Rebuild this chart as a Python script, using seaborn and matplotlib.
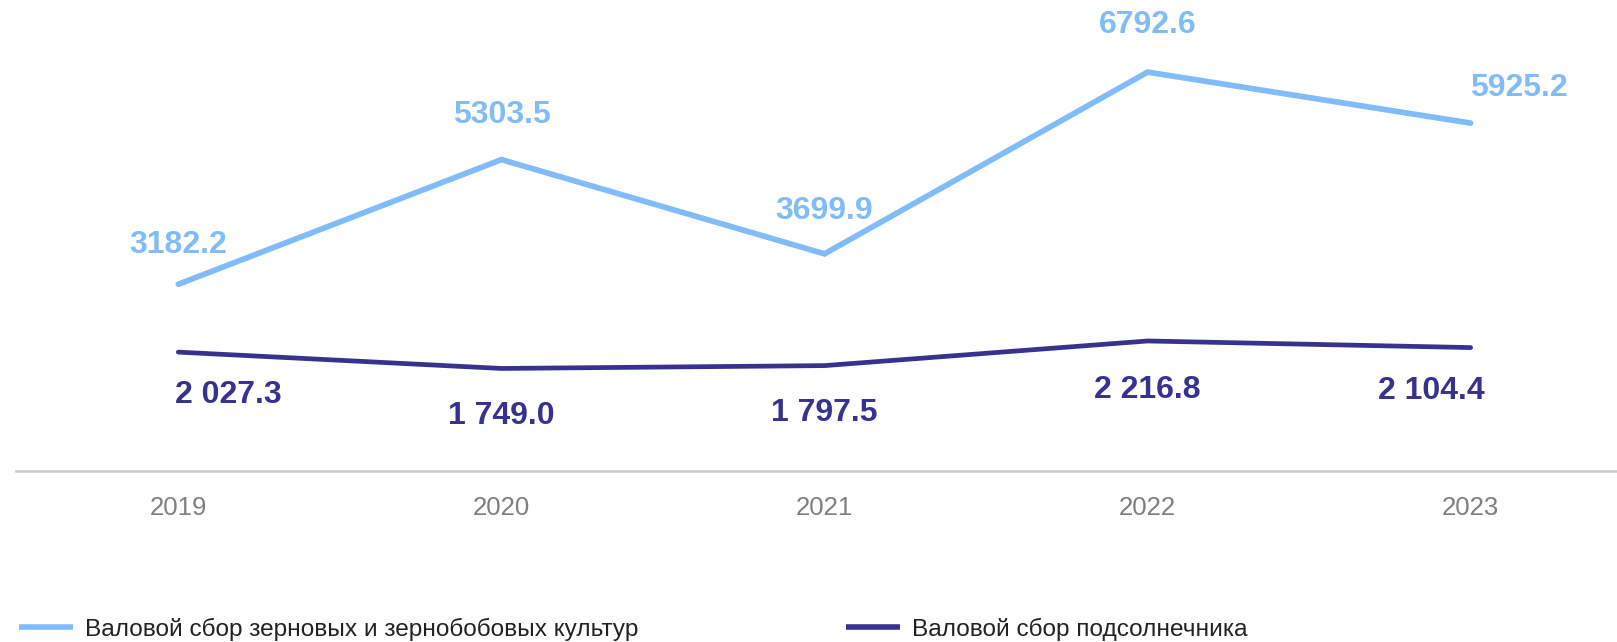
import pandas as pd
import matplotlib.pyplot as plt
import seaborn as sns
from matplotlib.lines import Line2D

# === Data ===
years = ['2019', '2020', '2021', '2022', '2023']
grain = [3182.2, 5303.5, 3699.9, 6792.6, 5925.2]
sunflower = [2027.3, 1749.0, 1797.5, 2216.8, 2104.4]
grain_name = 'Валовой сбор зерновых и зернобобовых культур'
sunflower_name = 'Валовой сбор подсолнечника'

light_blue = '#80BCFA'
dark_blue = '#37318F'

df = pd.DataFrame({
    'Год': years * 2,
    'Значение': grain + sunflower,
    'Ряд': [grain_name] * len(years) + [sunflower_name] * len(years),
})

# === Plot ===
sns.set_style('white')
plt.rcParams['font.family'] = ['Liberation Sans', 'DejaVu Sans']

fig = plt.figure(figsize=(16.17, 6.42), dpi=100)
ax = fig.add_axes([0.0096, 0.266, 0.9904, 0.734])

sns.lineplot(data=df, x='Год', y='Значение', hue='Ряд', sort=False,
             palette={grain_name: light_blue, sunflower_name: dark_blue},
             linewidth=3.6, ax=ax, legend=False)
for line, lw in zip(ax.lines, [4.1, 3.4]):
    line.set_linewidth(lw)
    line.set_solid_capstyle('round')
    line.set_solid_joinstyle('miter')

ax.set_ylim(0, 8020)
ax.set_xlim(-0.504, 4.453)

# data labels (offsets in points)
grain_off = [(0, 28), (0, 32), (0, 31), (0, 34), (35, 25)]
sun_off = [(36, -31), (0, -34), (0, -34), (0, -35), (-28, -31)]
for i, v in enumerate(grain):
    ax.annotate(f'{v:.1f}', (i, v), xytext=grain_off[i], textcoords='offset points',
                ha='center', va='center', fontsize=23, fontweight='bold', color=light_blue)
for i, v in enumerate(sunflower):
    ax.annotate(f'{v:,.1f}'.replace(',', ' '), (i, v), xytext=sun_off[i],
                textcoords='offset points', ha='center', va='center',
                fontsize=23, fontweight='bold', color=dark_blue)

# axes styling
for s in ['top', 'left', 'right']:
    ax.spines[s].set_visible(False)
ax.spines['bottom'].set_color('#C8C8C8')
ax.spines['bottom'].set_linewidth(1.8)
ax.set_yticks([])
ax.tick_params(axis='x', length=0, pad=18, labelsize=18.5, labelcolor='#7F7F7F')
ax.set_xlabel('')
ax.set_ylabel('')

# legend
handles = [Line2D([0], [0], color=light_blue, linewidth=4.0, solid_capstyle='butt'),
           Line2D([0], [0], color=dark_blue, linewidth=4.0, solid_capstyle='butt')]
fig.legend(handles, [grain_name, sunflower_name], loc='center left',
           bbox_to_anchor=(0.0118, 0.02), ncol=2, frameon=False,
           borderpad=0, borderaxespad=0,
           fontsize=17.6, handlelength=2.2, handletextpad=0.5, columnspacing=8.5,
           labelcolor='#222222')

plt.savefig('out.png', dpi=100)
